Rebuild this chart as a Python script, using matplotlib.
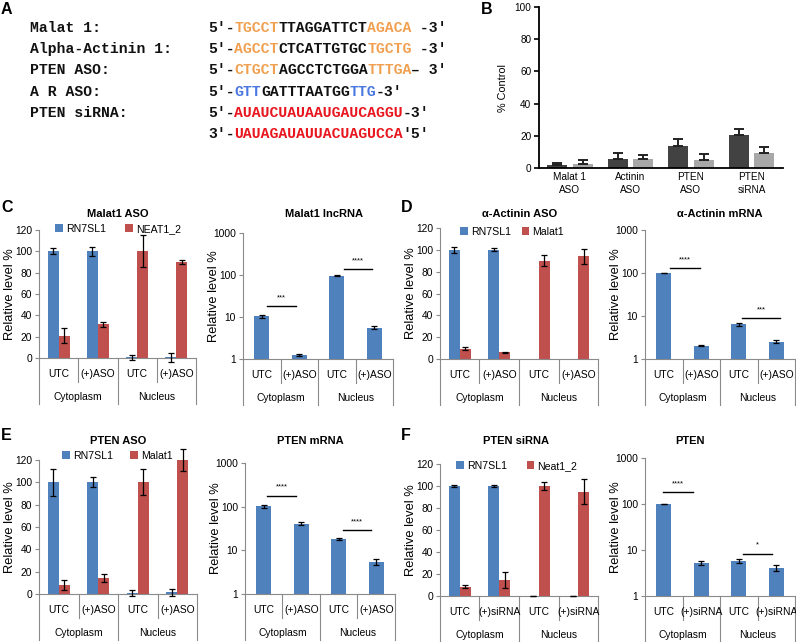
import numpy as np
import matplotlib
matplotlib.use("Agg")
import matplotlib.pyplot as plt
from matplotlib import transforms

plt.rcParams['font.family'] = ['Liberation Sans', 'DejaVu Sans']

# ---------------- data ----------------
# Panel A sequences (segment text, colour key)
seq_names = ["Malat 1:", "Alpha-Actinin 1:", "PTEN ASO:", "A R ASO:", "PTEN siRNA:", ""]
seq_rows = [
    [("5′-", "k"), ("TGCCT", "o"), ("TTAGGATTCT", "k"), ("AGACA", "o"), (" -3′", "k")],
    [("5′-", "k"), ("AGCCT", "o"), ("CTCATTGTGC", "k"), ("TGCTG", "o"), (" -3′", "k")],
    [("5′-", "k"), ("CTGCT", "o"), ("AGCCTCTGGA", "k"), ("TTTGA", "o"), ("– 3′", "k")],
    [("5′-", "k"), ("GTT", "b"), ("GATTTAATGG", "k"), ("TTG", "b"), ("-3′", "k")],
    [("5′-", "k"), ("AUAUCUAUAAUGAUCAGGU", "r"), ("-3′", "k")],
    [("3′-", "k"), ("UAUAGAUAUUACUAGUCCA", "r"), ("′5′", "k")],
]

# Panel B
b_groups = ["Malat 1\nASO", "Actinin\nASO", "PTEN\nASO", "PTEN\nsiRNA"]
b_dark = [1.6, 5.6, 13.7, 20.7]
b_dark_err = [1.5, 4.0, 4.3, 3.3]
b_light = [2.7, 5.8, 5.2, 9.1]
b_light_err = [2.0, 2.1, 3.3, 3.9]

# Panels C-F
cats_aso = ["UTC", "(+)ASO", "UTC", "(+)ASO"]
cats_sirna = ["UTC", "(+)siRNA", "UTC", "(+)siRNA"]
compartments = ["Cytoplasm", "Nucleus"]

C_blue = [100, 100, 0.5, 0.5]
C_blue_err = [2.7, 4.0, 2.5, 4.5]
C_red = [21, 31.5, 100, 90]
C_red_err = [7, 2.5, 15, 2]
C_log = [10.5, 1.27, 97, 5.6]
C_log_err = [0.8, 0.06, 3, 0.4]
C_sig = [(0.15, 0.9, 18, "***"), (2.2, 2.95, 137, "****")]

D_blue = [100, 100, np.nan, np.nan]
D_blue_err = [3, 1.5, np.nan, np.nan]
D_red = [9.5, 6.3, 90, 94]
D_red_err = [1.2, 0.5, 5, 7]
D_log = [100, 2.04, 6.4, 2.52]
D_log_err = [1.5, 0.05, 0.5, 0.2]
D_sig = [(0.17, 0.97, 131, "****"), (2.09, 3.1, 8.9, "***")]

E_blue = [100, 100, 1, 1.5]
E_blue_err = [12, 4.5, 2.5, 3]
E_red = [8, 14.3, 100, 120]
E_red_err = [4.5, 4, 11.5, 10]
E_log = [102, 41, 18.6, 5.5]
E_log_err = [8, 2.5, 1, 1]
E_sig = [(0.09, 0.86, 180, "****"), (2.11, 2.86, 29.5, "****")]

F_blue = [100, 100, 0, 0]
F_blue_err = [1, 0.5, 0.3, 0.3]
F_red = [8.5, 14.5, 100, 95]
F_red_err = [1.5, 7.5, 4, 11]
F_log = [100, 5.3, 5.8, 4.1]
F_log_err = [1.5, 0.6, 0.5, 0.6]
F_sig = [(-0.02, 0.78, 178, "****"), (2.11, 2.89, 8.3, "*")]

# ---------------- style ----------------
W, H = 796, 642
BLUE = "#4f81bd"
RED = "#c0504d"
GRAY = "#8a8a8a"
SEQCOL = {"k": "#111111", "o": "#f0a050", "b": "#4a78e0", "r": "#e8161e"}

fig = plt.figure(figsize=(W / 100, H / 100), dpi=100)


def add_ax(l, t, r, b):
    return fig.add_axes([l / W, 1 - b / H, (r - l) / W, (b - t) / H])


def ftext(x, y, s, **kw):
    fig.text(x / W, 1 - y / H, s, **kw)


# panel letters
for lab, x, y in [("A", 1, 9), ("B", 481, 9), ("C", 1, 208), ("D", 401, 208), ("E", 1, 435), ("F", 401, 435)]:
    ftext(x, y, lab, fontsize=11.5, fontweight="bold", ha="left", va="center")

# ---------------- Panel A ----------------
mono = ["Liberation Mono", "DejaVu Sans Mono"]
fs_mono = 10.6
cw = 0.6 * fs_mono * 100 / 72
row_y = [27.5, 49, 70.5, 91.5, 113, 134]
for name, segs, y in zip(seq_names, seq_rows, row_y):
    if name:
        ftext(30, y, name, family=mono, fontsize=fs_mono, fontweight="bold", ha="left", va="center",
              color=SEQCOL["k"])
    x = 208
    for s, c in segs:
        ftext(x, y, s, family=mono, fontsize=fs_mono, fontweight="bold", ha="left", va="center",
              color=SEQCOL[c])
        x += len(s) * cw

# ---------------- Panel B ----------------
axB = add_ax(539, 7, 783, 168)
xb = np.arange(len(b_groups))
off, bw = 0.212, 0.33
axB.bar(xb - off, b_dark, bw, color="#424242", zorder=2)
axB.bar(xb + off, b_light, bw, color="#a8a8a8", zorder=2)
axB.errorbar(xb - off, b_dark, yerr=[np.zeros(4), b_dark_err], fmt="none", ecolor="#222222",
             elinewidth=1.4, capsize=3.8, capthick=1.4, zorder=3)
axB.errorbar(xb + off, b_light, yerr=[np.zeros(4), b_light_err], fmt="none", ecolor="#222222",
             elinewidth=1.4, capsize=3.8, capthick=1.4, zorder=3)
axB.set_xlim(-0.51, 3.52)
axB.set_ylim(0, 100)
axB.set_yticks([0, 20, 40, 60, 80, 100])
axB.set_xticks(xb)
axB.set_xticklabels(b_groups, fontsize=7.2, linespacing=1.35)
axB.tick_params(axis="x", length=0, pad=3)
axB.tick_params(axis="y", labelsize=7.2, length=3.5, width=1.2, pad=2)
for s in ["top", "right"]:
    axB.spines[s].set_visible(False)
for s in ["left", "bottom"]:
    axB.spines[s].set_linewidth(1.3)
axB.text(-36 / 244, 0.5, "% Control", transform=axB.transAxes, rotation=90, ha="center", va="center",
         fontsize=7.8)


# ---------------- helpers for C-F ----------------
def category_axis(ax, h_px, labels):
    tr = transforms.blended_transform_factory(ax.transData, ax.transAxes)
    for i, lab in enumerate(labels):
        ax.text(i, -16 / h_px, lab, transform=tr, ha="center", va="center", fontsize=7.4)
    for j, g in enumerate(compartments):
        ax.text(2 * j + 0.5, -39 / h_px, g, transform=tr, ha="center", va="center", fontsize=7.4)
    for xe, long_ in [(-0.5, True), (0.5, False), (1.5, True), (2.5, False), (3.5, True)]:
        ax.plot([xe, xe], [0, -(46 if long_ else 24) / h_px], transform=tr, color=GRAY, lw=0.8,
                clip_on=False)
    ax.set_xlim(-0.5, 3.5)
    ax.set_xticks([])
    for s in ["top", "right"]:
        ax.spines[s].set_visible(False)
    for s in ["left", "bottom"]:
        ax.spines[s].set_color(GRAY)
        ax.spines[s].set_linewidth(0.8)
    ax.tick_params(axis="y", colors=GRAY, labelcolor="black", labelsize=7.4, length=3, width=0.8, pad=2)
    ax.text(-29 / (ax.get_position().width * W), 0.5, "Relative level %", transform=ax.transAxes,
            rotation=90, ha="center", va="center", fontsize=9.3)


def linear_panel(box, blue, blue_err, red, red_err, labels, names, leg_xy, colsp):
    l, t, r, b = box
    ax = add_ax(l, t, r, b)
    x = np.arange(4)
    w = 0.28
    b1 = ax.bar(x - w / 2, blue, w, color=BLUE, zorder=2, label=names[0])
    b2 = ax.bar(x + w / 2, red, w, color=RED, zorder=2, label=names[1])
    ax.errorbar(x - w / 2, blue, yerr=blue_err, fmt="none", ecolor="black", elinewidth=0.9,
                capsize=2.3, capthick=0.9, zorder=3, clip_on=False)
    ax.errorbar(x + w / 2, red, yerr=red_err, fmt="none", ecolor="black", elinewidth=0.9,
                capsize=2.3, capthick=0.9, zorder=3, clip_on=False)
    ax.set_ylim(0, 120)
    ax.set_yticks([0, 20, 40, 60, 80, 100, 120])
    category_axis(ax, b - t, labels)
    ax.legend(handles=[b1, b2], ncol=2, loc="center", bbox_to_anchor=leg_xy, frameon=False,
              fontsize=7.6, handlelength=0.75, handleheight=0.75, handletextpad=0.3,
              columnspacing=colsp, borderpad=0, borderaxespad=0)
    return ax


def log_panel(box, vals, errs, labels, sig):
    l, t, r, b = box
    ax = add_ax(l, t, r, b)
    x = np.arange(4)
    ax.set_yscale("log")
    ax.bar(x, vals, 0.4, color=BLUE, zorder=2)
    ax.errorbar(x, vals, yerr=errs, fmt="none", ecolor="black", elinewidth=0.9, capsize=2.3,
                capthick=0.9, zorder=3)
    ax.set_ylim(1, 1000)
    ax.set_yticks([1, 10, 100, 1000])
    ax.set_yticklabels(["1", "10", "100", "1000"])
    ax.minorticks_off()
    category_axis(ax, b - t, labels)
    for x1, x2, y, s in sig:
        ax.plot([x1, x2], [y, y], color="black", lw=1.0, zorder=3)
        ax.annotate(s, xy=((x1 + x2) / 2, y), xytext=(0, 3.5), textcoords="offset points",
                    ha="center", va="bottom", fontsize=5.5)
    return ax


# ---------------- Panels C-F ----------------
linear_panel((39, 230, 196, 358), C_blue, C_blue_err, C_red, C_red_err, cats_aso,
             ["RN7SL1", "NEAT1_2"], (0.503, 1.008), 1.8)
log_panel((243, 233, 393, 359), C_log, C_log_err, cats_aso, C_sig)
ftext(118, 214, "Malat1 ASO", fontsize=8, fontweight="bold", ha="center", va="center")
ftext(324, 214, "Malat1 lncRNA", fontsize=8, fontweight="bold", ha="center", va="center")

linear_panel((440, 228, 598, 359), D_blue, D_blue_err, D_red, D_red_err, cats_aso,
             ["RN7SL1", "Malat1"], (0.456, 0.97), 1.0)
log_panel((645, 230, 795, 359), D_log, D_log_err, cats_aso, D_sig)
ftext(520, 214, "α-Actinin ASO", fontsize=8, fontweight="bold", ha="center", va="center")
ftext(720, 214, "α-Actinin mRNA", fontsize=8, fontweight="bold", ha="center", va="center")

linear_panel((39, 460, 197, 594), E_blue, E_blue_err, E_red, E_red_err, cats_aso,
             ["RN7SL1", "Malat1"], (0.494, 1.032), 1.6)
log_panel((245, 463, 395, 594), E_log, E_log_err, cats_aso, E_sig)
ftext(118, 441, "PTEN ASO", fontsize=8, fontweight="bold", ha="center", va="center")
ftext(310, 441, "PTEN mRNA", fontsize=8, fontweight="bold", ha="center", va="center")

linear_panel((440, 464, 598, 596), F_blue, F_blue_err, F_red, F_red_err, cats_sirna,
             ["RN7SL1", "Neat1_2"], (0.487, 0.985), 1.8)
log_panel((645, 458, 795, 596), F_log, F_log_err, cats_sirna, F_sig)
ftext(516, 441, "PTEN siRNA", fontsize=8, fontweight="bold", ha="center", va="center")
ftext(690, 441, "PTEN", fontsize=8, fontweight="bold", ha="center", va="center")

fig.savefig("out.png", dpi=100)
